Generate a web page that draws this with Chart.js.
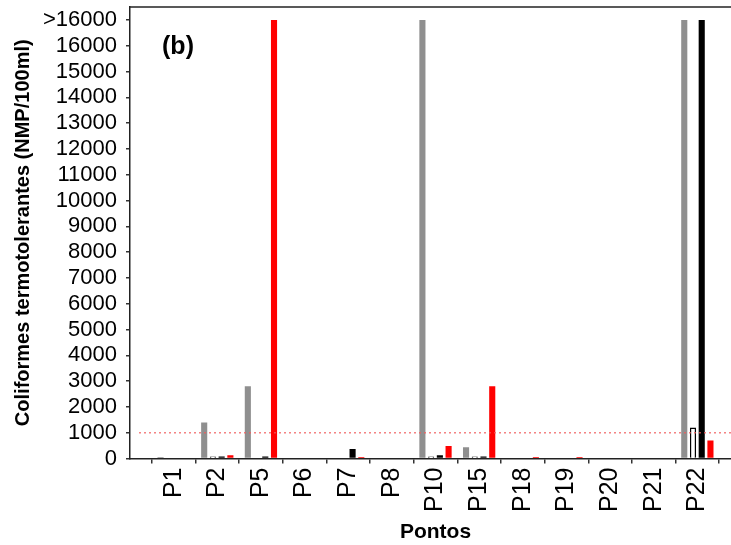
<!DOCTYPE html>
<html>
<head>
<meta charset="utf-8">
<script src="https://cdn.jsdelivr.net/npm/chart.js@4/dist/chart.umd.min.js"></script>
<style>
  html, body { margin: 0; padding: 0; overflow: hidden; background: #fff; }
  #wrap { width: 731px; height: 545px; overflow: hidden; }
</style>
</head>
<body>
<div id="wrap"><canvas id="chart" width="741" height="545"></canvas></div>
<script>
// data (b)
const categories = ["P1", "P2", "P5", "P6", "P7", "P8", "P10", "P15", "P18", "P19", "P20", "P21", "P22"];
const grayValues  = [60, 1400, 2800, 0, 0, 0, 17000, 440, 0, 0, 0, 0, 17000];
const whiteValues = [0, 80, 0, 0, 0, 0, 80, 80, 0, 0, 0, 0, 1200];
const blackValues = [0, 80, 80, 0, 370, 0, 130, 80, 0, 0, 0, 0, 17000];
const redValues   = [0, 130, 17000, 0, 60, 0, 480, 2800, 60, 60, 0, 0, 700];
const yTicks = [0, 1000, 2000, 3000, 4000, 5000, 6000, 7000, 8000, 9000, 10000,
                11000, 12000, 13000, 14000, 15000, 16000, 17000];
const limitValue = 1000;

Chart.defaults.font.family = '"Liberation Sans", Arial, sans-serif';
Chart.defaults.color = "#000";

// empty slot on each side so P1 sits one step from the axis
const labels = [""].concat(categories, [""]);
const pad = arr => [null].concat(arr, [null]);

const extras = {
  id: "extras",
  afterDatasetsDraw(chart) {
    const ctx = chart.ctx, area = chart.chartArea, y = chart.scales.y;
    ctx.save();
    // dotted limit line
    ctx.strokeStyle = "rgba(240,90,90,0.75)";
    ctx.lineWidth = 1.5;
    ctx.setLineDash([2, 3]);
    ctx.beginPath();
    ctx.moveTo(area.left + 9, y.getPixelForValue(limitValue));
    ctx.lineTo(area.right, y.getPixelForValue(limitValue));
    ctx.stroke();
    ctx.setLineDash([]);
    // top frame
    ctx.strokeStyle = "#222";
    ctx.lineWidth = 1.5;
    ctx.beginPath();
    ctx.moveTo(area.left, area.top);
    ctx.lineTo(area.right, area.top);
    ctx.stroke();
    // panel letter
    ctx.fillStyle = "#000";
    ctx.font = 'bold 25px "Liberation Sans", Arial, sans-serif';
    ctx.textAlign = "center";
    ctx.textBaseline = "middle";
    ctx.fillText("(b)", 178, 47);
    ctx.restore();
  }
};

new Chart(document.getElementById("chart"), {
  type: "bar",
  data: {
    labels: labels,
    datasets: [
      { data: pad(grayValues), backgroundColor: "#8f8f8f", borderWidth: 0 },
      { data: pad(whiteValues), backgroundColor: "#fff", borderColor: "#000", borderWidth: 1.5 },
      { data: pad(blackValues), backgroundColor: "#000", borderWidth: 0 },
      { data: pad(redValues), backgroundColor: "#ff0000", borderWidth: 0 }
    ]
  },
  options: {
    responsive: false,
    animation: false,
    devicePixelRatio: 1,
    layout: { padding: { top: 7, left: 0, right: 0, bottom: 0 } },
    categoryPercentage: 0.8,
    barPercentage: 0.7,
    plugins: { legend: { display: false }, tooltip: { enabled: false } },
    scales: {
      x: {
        offset: false,
        grid: { drawOnChartArea: false, tickLength: 5, color: "#333", lineWidth: 1.5 },
        border: { color: "#222", width: 1.5 },
        ticks: { autoSkip: false, maxRotation: 90, minRotation: 90, padding: 4, font: { size: 25 } },
        title: { display: true, text: "Pontos", font: { size: 21, weight: "bold" }, padding: { top: 0, bottom: 0 } },
        afterFit(scale) {
          scale.height = 86.5;
          scale.paddingLeft = 0;
          scale.paddingRight = 0;
        }
      },
      y: {
        min: 0,
        max: 17500,
        grid: { drawOnChartArea: false, tickLength: 4, color: "#333", lineWidth: 1.5 },
        border: { color: "#222", width: 1.5 },
        ticks: {
          autoSkip: false,
          stepSize: 1000,
          padding: 9,
          font: { size: 22 },
          callback: v => v === 17000 ? ">16000" : String(v)
        },
        afterBuildTicks(scale) {
          scale.ticks = yTicks.map(v => ({ value: v }));
        },
        title: {
          display: true,
          text: "Coliformes termotolerantes (NMP/100ml)",
          font: { size: 20, weight: "bold" },
          padding: { top: 11, bottom: 0 }
        },
        afterFit(scale) {
          scale.width = 130;
          scale.paddingTop = 0;
          scale.paddingBottom = 0;
        }
      }
    }
  },
  plugins: [extras]
});
</script>
</body>
</html>
